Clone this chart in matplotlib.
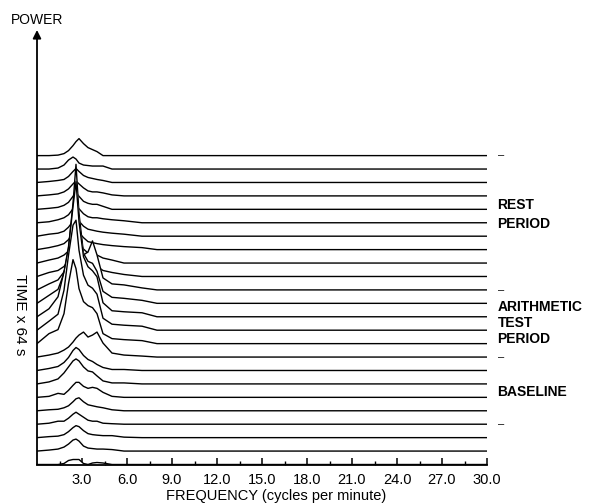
import matplotlib.pyplot as plt
import numpy as np

plt.rcParams['font.family'] = ['Liberation Sans', 'DejaVu Sans']

# frequency points (cycles per minute) at which each spectrum was read
freq = [0, 0.8, 1.4, 1.8, 2.1, 2.4, 2.6, 2.8, 3.1, 3.4, 3.7, 4.0, 4.4, 5.0, 5.8, 7.0, 8.0, 30.0]

# power of each 64 s epoch, first (bottom) to last (top)
spectra = [
    [0, 0, 0, 1, 4, 5, 5, 5, 1, 0, 1.5, 2, 1.5, 0, 0, 0, 0, 0],
    [0, 1, 2, 4, 7, 11, 12, 10, 5, 3, 2.5, 2, 2, 1.5, 0, 0, 0, 0],
    [0, 1, 1.5, 3, 6, 10, 12, 11, 7, 4, 3, 2.5, 2, 2, 0.5, 0, 0, 0],
    [0, 1, 3, 3, 6, 10, 12, 10, 7, 4, 3, 3, 1, 0.5, 0, 0, 0, 0],
    [0, 1, 1.5, 3, 5, 9, 12, 13, 9, 6, 5, 4, 3, 1, 0, 0, 0, 0],
    [0, 1, 4, 3, 7, 12, 15, 15, 11, 9, 10, 9, 5, 1, 0, 0, 0, 0],
    [0, 2, 5, 11, 17, 23, 25, 23, 17, 13, 12, 8, 3, 1, 1, 0, 0, 0],
    [0, 2, 4, 8, 13, 20, 23, 21, 15, 11, 9, 6, 3, 1, 1, 0, 0, 0],
    [0, 2, 4, 7, 10, 15, 19, 22, 25, 20, 22, 25, 14, 4, 2, 1, 0, 0],
    [0, 10, 14, 30, 60, 84, 75, 55, 42, 38, 36, 30, 10, 5, 4, 3, 0, 0],
    [0, 9, 16, 40, 75, 105, 110, 80, 55, 45, 42, 36, 12, 6, 5, 4, 0, 0],
    [0, 8, 20, 45, 70, 110, 135, 95, 60, 50, 46, 40, 14, 6, 5, 4, 0, 0],
    [0, 8, 14, 30, 55, 100, 139, 90, 50, 42, 40, 32, 12, 6, 5, 3, 0, 0],
    [0, 6, 10, 18, 30, 60, 100, 70, 35, 38, 49, 35, 12, 6, 5, 2, 0, 0],
    [0, 4, 6, 10, 16, 24, 28, 24, 16, 12, 12, 10, 6, 4, 2, 0, 0, 0],
    [0, 3, 5, 8, 12, 20, 24, 20, 14, 10, 9, 8, 5, 3, 0, 0, 0, 0],
    [0, 2, 4, 6, 10, 16, 20, 17, 12, 8, 7, 6, 5, 4, 3, 2, 0, 0],
    [0, 2, 3, 5, 9, 15, 19, 15, 10, 7, 6, 5, 4, 3, 2, 0, 0, 0],
    [0, 1, 3, 5, 8, 14, 18, 14, 9, 6, 5, 5, 4, 3, 2, 0, 0, 0],
    [0, 1, 2, 4, 7, 13, 17, 13, 8, 6, 5, 5, 3, 0, 0, 0, 0, 0],
    [0, 1, 2, 4, 7, 12, 15, 12, 8, 5, 4, 4, 3, 1, 0, 0, 0, 0],
    [0, 1, 2, 3, 6, 11, 14, 11, 7, 5, 4, 3, 2, 0, 0, 0, 0, 0],
    [0, 0, 1, 4, 9, 12, 10, 6, 4, 3.5, 3, 3, 3, 0, 0, 0, 0, 0],
    [0, 0, 0.5, 2, 5, 10, 14, 17, 12, 8, 6, 4, 0, 0, 0, 0, 0, 0],
]

# epochs where the dash markers sit (period boundaries)
boundaries = [3, 8, 13, 23]

xticks = np.arange(3, 31, 3)
xticklabels = ["%.1f" % t for t in xticks]

spacing = 13.43  # vertical offset between successive spectra

fig = plt.figure(figsize=(5.9, 5.04), dpi=100)
ax = fig.add_axes([37 / 590, 39.5 / 504, 450 / 590, 434.5 / 504])

n = len(spectra)
for i, row in enumerate(spectra):
    base = i * spacing
    top = base + np.array(row)
    # later (front) rows hide the rows drawn behind them
    ax.fill_between(freq, base, top, color='white', lw=0, zorder=2 * (n - i))
    ax.plot(freq, top, color='black', lw=1.0, zorder=2 * (n - i) + 1)

ax.set_xlim(0, 30)
ax.set_ylim(0, 434.5)

for side in ['top', 'right', 'left']:
    ax.spines[side].set_visible(False)
ax.spines['bottom'].set_linewidth(1.3)
ax.spines['bottom'].set_zorder(200)

ax.set_yticks([])
ax.set_xticks(xticks)
ax.set_xticklabels(xticklabels, fontsize=10.5)
ax.set_xticks(np.arange(1.5, 30, 3), minor=True)
ax.tick_params(axis='x', which='major', direction='in', length=5, width=1.1, pad=6)
ax.tick_params(axis='x', which='minor', direction='in', length=3, width=1.0)

# power axis with arrow head
ax.annotate('', xy=(0, 1), xytext=(0, 0), xycoords='axes fraction',
            arrowprops=dict(arrowstyle='-|>', lw=1.3, color='black',
                            mutation_scale=12, shrinkA=0, shrinkB=0),
            zorder=300, annotation_clip=False)

fig.text(37 / 590, 1 - 20 / 504, 'POWER', fontsize=10, ha='center', va='center')
fig.text(20 / 590, 1 - 315 / 504, 'TIME x 64 s', fontsize=11, rotation=-90,
         ha='center', va='center')
fig.text(276 / 590, 1 - 496 / 504, 'FREQUENCY (cycles per minute)', fontsize=10.5,
         ha='center', va='center')

for b in boundaries:
    ax.text(30.75, b * spacing, '\u2013', fontsize=8, ha='left', va='center',
            clip_on=False)

ax.text(30.7, 18.58 * spacing, 'REST\nPERIOD', fontsize=10, fontweight='bold',
        ha='left', va='center', linespacing=1.45, clip_on=False)
ax.text(30.7, 10.54 * spacing, 'ARITHMETIC\nTEST\nPERIOD', fontsize=10,
        fontweight='bold', ha='left', va='center', linespacing=1.15, clip_on=False)
ax.text(30.7, 5.4 * spacing, 'BASELINE', fontsize=10, fontweight='bold',
        ha='left', va='center', clip_on=False)

fig.savefig('out.png', dpi=100)
